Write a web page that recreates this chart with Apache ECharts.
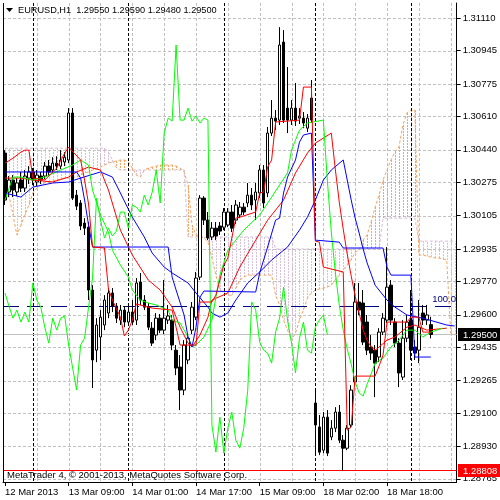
<!DOCTYPE html>
<html>
<head>
<meta charset="utf-8">
<script src="https://cdn.jsdelivr.net/npm/echarts@6/dist/echarts.min.js"></script>
<style>
  html, body { margin: 0; padding: 0; background: #fff; }
  #chart { width: 500px; height: 500px; }
</style>
</head>
<body>
<div id="chart"></div>
<script>
// EURUSD H1 bars, oldest first (bar 0 = 12 Mar 2013 17:00)
var opens = [
  1.30423, 1.30225, 1.30286, 1.30225, 1.30286, 1.30245, 1.30296, 1.30327, 1.30276, 1.30306,
  1.30306, 1.30357, 1.30337, 1.30372, 1.30357, 1.30378, 1.30388, 1.30627, 1.30209, 1.30169,
  1.30067, 1.30046, 1.29726, 1.29420, 1.29487, 1.29548, 1.29609, 1.29711, 1.29644, 1.29573,
  1.29624, 1.29563, 1.29614, 1.29573, 1.29767, 1.29675, 1.29639, 1.29532, 1.29497, 1.29583,
  1.29522, 1.29573, 1.29573, 1.29420, 1.29334, 1.29217, 1.29370, 1.29522, 1.29588, 1.29792,
  1.30194, 1.30082, 1.29996, 1.30041, 1.30052, 1.30046, 1.30057, 1.30123, 1.30082, 1.30108,
  1.30148, 1.30169, 1.30209, 1.30184, 1.30220, 1.30337, 1.30220, 1.30525, 1.30601, 1.30591,
  1.30988, 1.30652, 1.30591, 1.30652, 1.30601, 1.30601, 1.30550, 1.30703, 1.29151, 1.29029,
  1.28911, 1.29079, 1.28978, 1.29023, 1.29105, 1.28962, 1.28921, 1.29039, 1.29258, 1.29665,
  1.29660, 1.29563, 1.29436, 1.29420, 1.29385, 1.29512, 1.29573, 1.29751, 1.29563, 1.29456,
  1.29283, 1.29481, 1.29573, 1.29436, 1.29420, 1.29609, 1.29573, 1.29550
];
var closes = [
  1.30184, 1.30286, 1.30235, 1.30271, 1.30245, 1.30306, 1.30327, 1.30286, 1.30311, 1.30286,
  1.30357, 1.30327, 1.30372, 1.30357, 1.30388, 1.30402, 1.30627, 1.30194, 1.30153, 1.30052,
  1.30041, 1.29726, 1.29370, 1.29548, 1.29588, 1.29675, 1.29711, 1.29644, 1.29583, 1.29624,
  1.29563, 1.29614, 1.29563, 1.29762, 1.29675, 1.29639, 1.29537, 1.29456, 1.29583, 1.29522,
  1.29583, 1.29594, 1.29446, 1.29329, 1.29217, 1.29446, 1.29481, 1.29639, 1.29787, 1.30194,
  1.30082, 1.29991, 1.30041, 1.30001, 1.30026, 1.30123, 1.30123, 1.30041, 1.30159, 1.30148,
  1.30123, 1.30209, 1.30159, 1.30225, 1.30337, 1.30169, 1.30525, 1.30601, 1.30586, 1.30973,
  1.30591, 1.30591, 1.30652, 1.30586, 1.30612, 1.30576, 1.30601, 1.30591, 1.29039, 1.28901,
  1.29079, 1.28896, 1.29023, 1.29105, 1.28962, 1.28921, 1.29023, 1.29217, 1.29665, 1.29624,
  1.29461, 1.29420, 1.29405, 1.29354, 1.29512, 1.29583, 1.29741, 1.29573, 1.29456, 1.29304,
  1.29481, 1.29563, 1.29420, 1.29405, 1.29537, 1.29573, 1.29599, 1.29500
];
var lows = [
  1.30159, 1.30199, 1.30199, 1.30204, 1.30225, 1.30225, 1.30266, 1.30260, 1.30255, 1.30266,
  1.30291, 1.30306, 1.30322, 1.30337, 1.30342, 1.30357, 1.30372, 1.30184, 1.30133, 1.30031,
  1.30006, 1.29675, 1.29227, 1.29359, 1.29370, 1.29522, 1.29583, 1.29614, 1.29558, 1.29548,
  1.29537, 1.29543, 1.29548, 1.29548, 1.29650, 1.29624, 1.29522, 1.29441, 1.29471, 1.29507,
  1.29502, 1.29553, 1.29420, 1.29293, 1.29115, 1.29191, 1.29349, 1.29502, 1.29573, 1.29777,
  1.30057, 1.29980, 1.29980, 1.29980, 1.30006, 1.30031, 1.30046, 1.30021, 1.30062, 1.30092,
  1.30108, 1.30148, 1.30133, 1.30082, 1.30194, 1.30143, 1.30199, 1.30510, 1.30540, 1.30566,
  1.30576, 1.30525, 1.30566, 1.30561, 1.30571, 1.30550, 1.30530, 1.30576, 1.28896, 1.28886,
  1.28896, 1.28881, 1.28962, 1.29003, 1.28947, 1.28808, 1.28911, 1.29023, 1.29242, 1.29599,
  1.29446, 1.29395, 1.29370, 1.29181, 1.29359, 1.29497, 1.29558, 1.29548, 1.29436, 1.29232,
  1.29268, 1.29461, 1.29370, 1.29370, 1.29354, 1.29548, 1.29548, 1.29480
];
var highs = [
  1.30438, 1.30306, 1.30311, 1.30296, 1.30327, 1.30337, 1.30357, 1.30347, 1.30337, 1.30327,
  1.30378, 1.30388, 1.30402, 1.30407, 1.30438, 1.30428, 1.30652, 1.30652, 1.30235, 1.30184,
  1.30092, 1.30072, 1.29751, 1.29583, 1.29624, 1.29700, 1.29736, 1.29736, 1.29660, 1.29650,
  1.29644, 1.29644, 1.29675, 1.29787, 1.29813, 1.29700, 1.29660, 1.29563, 1.29609, 1.29604,
  1.29777, 1.29650, 1.29599, 1.29446, 1.29395, 1.29471, 1.29502, 1.29665, 1.29818, 1.30209,
  1.30204, 1.30123, 1.30072, 1.30072, 1.30072, 1.30143, 1.30143, 1.30159, 1.30184, 1.30174,
  1.30169, 1.30271, 1.30245, 1.30271, 1.30362, 1.30362, 1.30556, 1.30693, 1.30642, 1.31064,
  1.31049, 1.30861, 1.30693, 1.30780, 1.30652, 1.30632, 1.30622, 1.30795, 1.29217, 1.29090,
  1.29105, 1.29115, 1.29064, 1.29130, 1.29141, 1.28988, 1.29039, 1.29242, 1.29762, 1.29762,
  1.29726, 1.29599, 1.29497, 1.29446, 1.29532, 1.29609, 1.29945, 1.29777, 1.29583, 1.29481,
  1.29573, 1.29599, 1.29726, 1.29471, 1.29675, 1.29650, 1.29650, 1.29590
];

// Ichimoku: tenkan / kijun vertices [bar, price]
var tenkan = [
  [0,1.30372],[2,1.30397],[4,1.30428],[5,1.30438],[6,1.30438],[7,1.30296],[10,1.30286],[13,1.30347],
  [15,1.30423],[16,1.30453],[19,1.30388],[20,1.30286],[21,1.30164],[22,1.29945],[25,1.29940],[26,1.29731],
  [27,1.29675],[29,1.29588],[30,1.29492],[31,1.29522],[32,1.29573],[33,1.29655],[37,1.29634],[42,1.29624],
  [43,1.29537],[44,1.29446],[48,1.29446],[49,1.29665],[52,1.29665],[53,1.29700],[54,1.29777],[55,1.29853],
  [56,1.29889],[57,1.29991],[58,1.30092],[59,1.30097],[63,1.30123],[64,1.30220],[65,1.30225],[66,1.30352],
  [67,1.30388],[68,1.30581],[74,1.30591],[75,1.30759],[77,1.30759],[78,1.29975],[79,1.29970],[80,1.29843],
  [85,1.29818],[86,1.29013],[87,1.29029],[88,1.29288],[93,1.29288],[94,1.29339],[95,1.29395],[96,1.29563],
  [101,1.29563],[102,1.29588],[104,1.29588],[105,1.29512],[107,1.29512]
];
var kijun = [
  [0,1.30327],[18,1.30327],[19,1.30296],[20,1.30184],[21,1.30057],[22,1.29945],[41,1.29945],[42,1.29792],
  [43,1.29726],[45,1.29599],[46,1.29487],[47,1.29436],[48,1.29537],[49,1.29690],[50,1.29721],[63,1.29716],
  [64,1.29813],[65,1.29879],[66,1.29945],[68,1.30082],[69,1.30092],[70,1.30220],[71,1.30301],[73,1.30388],
  [74,1.30479],[75,1.30515],[77,1.30525],[78,1.29980],[84,1.29970],[85,1.29940],[95,1.29940],[96,1.29843],
  [97,1.29802],[102,1.29802],[103,1.29385],[107,1.29385]
];
// senkou spans, one value per bar slot (cloud runs 26 bars ahead)
var spanA = [
  1.30286, 1.30209, 1.30108, 1.30006, 1.30057, 1.30108, 1.30159, 1.30220, 1.30245, 1.30260,
  1.30271, 1.30276, 1.30281, 1.30286, 1.30291, 1.30296, 1.30296, 1.30301, 1.30301, 1.30311,
  1.30322, 1.30327, 1.30337, 1.30342, 1.30352, 1.30362, 1.30372, 1.30378, 1.30383, 1.30388,
  1.30388, 1.30378, 1.30347, 1.30311, 1.30301, 1.30337, 1.30347, 1.30352, 1.30357, 1.30362,
  1.30362, 1.30362, 1.30362, 1.30357, 1.30347, 1.30327, 1.30260, 1.30057, 1.30006, 1.29996,
  1.29991, 1.29970, 1.29889, 1.29802, 1.29726, 1.29711, 1.29700, 1.29700, 1.29736, 1.29777,
  1.29792, 1.29802, 1.29802, 1.29802, 1.29802, 1.29802, 1.29802, 1.29802, 1.29700, 1.29650,
  1.29573, 1.29522, 1.29471, 1.29507, 1.29573, 1.29624, 1.29685, 1.29711, 1.29726, 1.29731,
  1.29736, 1.29741, 1.29751, 1.29777, 1.29802, 1.29828, 1.29853, 1.29879, 1.29919, 1.29929,
  1.29980, 1.30006, 1.30072, 1.30148, 1.30209, 1.30286, 1.30337, 1.30388, 1.30428, 1.30454,
  1.30566, 1.30627, 1.30642, 1.30642, 1.29904, 1.29904, 1.29899, 1.29894, 1.29889, 1.29889,
  1.29884, 1.29879, 1.29507, 1.29497
];
var spanB = [
  1.30448, 1.30448, 1.30448, 1.30448, 1.30448, 1.30448, 1.30448, 1.30448, 1.30448, 1.30448,
  1.30448, 1.30448, 1.30448, 1.30448, 1.30448, 1.30448, 1.30448, 1.30448, 1.30448, 1.30448,
  1.30448, 1.30448, 1.30448, 1.30448, 1.30448, 1.30448, 1.30428, 1.30388, 1.30347, 1.30337,
  1.30337, 1.30337, 1.30337, 1.30337, 1.30337, 1.30337, 1.30337, 1.30337, 1.30337, 1.30337,
  1.30337, 1.30337, 1.30337, 1.30337, 1.30337, 1.30337, 1.29996, 1.29996, 1.29996, 1.29996,
  1.29996, 1.29996, 1.29996, 1.29996, 1.29996, 1.29996, 1.29996, 1.29996, 1.29996, 1.29996,
  1.29996, 1.29996, 1.29996, 1.29996, 1.29996, 1.29996, 1.29996, 1.29996, 1.29935, 1.29935,
  1.29935, 1.29935, 1.29935, 1.29935, 1.29935, 1.29935, 1.29935, 1.29935, 1.29935, 1.29935,
  1.29935, 1.29935, 1.29935, 1.29935, 1.29935, 1.29935, 1.29935, 1.29935, 1.29935, 1.29935,
  1.29935, 1.29935, 1.29935, 1.29935, 1.29935, 1.30092, 1.30092, 1.30092, 1.30092, 1.30092,
  1.30092, 1.30092, 1.30092, 1.30092, 1.29975, 1.29975, 1.29975, 1.29975, 1.29975, 1.29975,
  1.29975, 1.29975, 1.29975, 1.29975
];

// Alligator lines (jaw blue, teeth red, lips green), vertices [bar, price]
var jaw = [
  [0,1.30220],[4,1.30199],[7,1.30250],[12,1.30271],[16,1.30276],[19,1.30296],[24,1.30327],[27,1.30301],
  [29,1.30220],[32,1.30097],[35,1.29996],[37,1.29914],[40,1.29843],[42,1.29813],[46,1.29762],[48,1.29711],
  [51,1.29639],[52,1.29609],[54,1.29588],[56,1.29609],[58,1.29675],[61,1.29762],[64,1.29818],[67,1.29879],
  [71,1.29945],[74,1.30031],[76,1.30097],[78,1.30184],[80,1.30286],[82,1.30337],[85,1.30388],[86,1.30286],
  [87,1.30184],[88,1.30092],[89,1.30016],[90,1.29935],[91,1.29864],[92,1.29808],[93,1.29751],[96,1.29675],
  [98,1.29639],[101,1.29599],[105,1.29583],[111,1.29548],[113,1.29543]
];
var teeth = [
  [0,1.30296],[4,1.30296],[7,1.30286],[12,1.30276],[16,1.30301],[18,1.30327],[21,1.30352],[24,1.30337],
  [26,1.30235],[29,1.30031],[32,1.29904],[36,1.29777],[39,1.29726],[42,1.29639],[44,1.29537],[46,1.29456],
  [47,1.29436],[49,1.29497],[51,1.29588],[52,1.29675],[56,1.29711],[59,1.29843],[63,1.29980],[66,1.30082],
  [70,1.30184],[73,1.30322],[76,1.30423],[78,1.30474],[82,1.30525],[83,1.30342],[84,1.30174],[85,1.30036],
  [86,1.29909],[87,1.29797],[88,1.29695],[89,1.29609],[90,1.29522],[91,1.29471],[92,1.29436],[93,1.29420],
  [94,1.29436],[96,1.29471],[98,1.29487],[101,1.29537],[103,1.29548],[106,1.29522],[111,1.29532]
];
var lips = [
  [0,1.30184],[2,1.30301],[4,1.30301],[7,1.30286],[10,1.30301],[14,1.30337],[17,1.30362],[19,1.30388],
  [21,1.30362],[22,1.30235],[24,1.30108],[26,1.30021],[27,1.29929],[29,1.29853],[31,1.29792],[32,1.29726],
  [34,1.29675],[36,1.29660],[38,1.29650],[41,1.29624],[42,1.29573],[44,1.29558],[46,1.29487],[47,1.29436],
  [48,1.29446],[50,1.29487],[52,1.29573],[53,1.29690],[54,1.29802],[56,1.29929],[60,1.30031],[64,1.30108],
  [67,1.30199],[71,1.30322],[72,1.30438],[73,1.30489],[74,1.30540],[76,1.30576],[80,1.30591],[81,1.30286],
  [82,1.30021],[83,1.29818],[84,1.29650],[85,1.29522],[86,1.29425],[87,1.29349],[88,1.29258],[89,1.29202],
  [90,1.29186],[91,1.29247],[92,1.29298],[93,1.29354],[95,1.29380],[97,1.29436],[99,1.29471],[101,1.29522],
  [103,1.29522],[105,1.29487],[107,1.29512],[110,1.29532]
];

var tickIdx = [0, 16, 32, 48, 64, 80, 96];
var tickText = ['12 Mar 2013', '13 Mar 09:00', '14 Mar 01:00', '14 Mar 17:00', '15 Mar 09:00', '18 Mar 02:00', '18 Mar 18:00'];
var priceTicks = [1.31110, 1.30945, 1.30775, 1.30610, 1.30440, 1.30275, 1.30105, 1.29935,
                  1.29770, 1.29600, 1.29435, 1.29265, 1.29100, 1.28930, 1.28765];
var dayStarts = [7, 31, 55, 78, 102];
var gridCols = [8, 16, 24, 32, 40, 48, 56, 64, 72, 80, 88, 96, 104, 112];
var bidPrice = 1.29500;
var lowLevel = 1.28808;
var fiboLevel = 1.29644;
var SLOTS = 114;

var FONT = '"Liberation Sans", Arial, sans-serif';
var SILVER = '#c0c0c0';
var cats = [];
for (var i = 0; i < SLOTS; i++) cats.push(String(i));

var candles = opens.map(function (o, i) { return [o, closes[i], lows[i], highs[i]]; });
// chikou span = close plotted 26 bars back
var chikou = closes.slice(26).map(function (c, i) { return [i, c]; });
var cloud = spanA.map(function (a, i) { return [i, a, spanB[i]]; });
var spanALine = spanA.map(function (a, i) { return [i, a]; });
var spanBLine = spanB.map(function (b, i) { return [i, b]; });

function crisp(v) { return Math.round(v) + 0.5; }

// dashed grid (pixel aligned), under everything else
function renderGrid(params, api) {
  var cs = params.coordSys;
  var x0 = cs.x, x1 = cs.x + cs.width, y0 = cs.y, y1 = cs.y + cs.height;
  var kids = [];
  priceTicks.forEach(function (v) {
    var y = crisp(api.coord([0, v])[1]);
    kids.push({type: 'line', shape: {x1: x0, y1: y, x2: x1, y2: y},
      style: {stroke: SILVER, lineWidth: 1, lineDash: [3, 2]}});
  });
  gridCols.forEach(function (c) {
    var x = crisp(api.coord([c, priceTicks[0]])[0]);
    kids.push({type: 'line', shape: {x1: x, y1: y0, x2: x, y2: y1},
      style: {stroke: SILVER, lineWidth: 1, lineDash: [3, 2]}});
  });
  return {type: 'group', children: kids};
}

// day separators and price levels
function renderFront(params, api) {
  var cs = params.coordSys;
  var x0 = cs.x, x1 = cs.x + cs.width, y0 = cs.y, y1 = cs.y + cs.height;
  var kids = [];
  dayStarts.forEach(function (c) {
    var x = crisp(api.coord([c, priceTicks[0]])[0]);
    kids.push({type: 'line', shape: {x1: x, y1: y0, x2: x, y2: y1},
      style: {stroke: '#000', lineWidth: 1, lineDash: [3, 2]}});
  });
  var yb = crisp(api.coord([0, bidPrice])[1]);
  kids.push({type: 'line', shape: {x1: x0, y1: yb, x2: x1, y2: yb}, style: {stroke: SILVER, lineWidth: 1}});
  var yf = crisp(api.coord([0, fiboLevel])[1]);
  kids.push({type: 'line', shape: {x1: x0, y1: yf, x2: x1 - 2, y2: yf},
    style: {stroke: '#000080', lineWidth: 1, lineDash: [16, 8]}});
  var yl = crisp(api.coord([0, lowLevel])[1]);
  kids.push({type: 'line', shape: {x1: x0, y1: yl, x2: x1, y2: yl}, style: {stroke: '#ff0000', lineWidth: 1}});
  kids.push({type: 'line', shape: {x1: crisp(x0), y1: y0, x2: crisp(x0), y2: y1}, style: {stroke: '#000', lineWidth: 1}});
  return {type: 'group', children: kids};
}

function renderCloud(params, api) {
  var i = api.value(0), a = api.value(1), b = api.value(2);
  var pa = api.coord([i, a]), pb = api.coord([i, b]);
  var x = crisp(pa[0]);
  return {type: 'line', shape: {x1: x, y1: pa[1], x2: x, y2: pb[1]},
    style: {stroke: a >= b ? '#F4A460' : '#D8BFD8', lineWidth: 1, lineDash: [2, 1]}};
}

function lineSeries(name, data, color, z, dash) {
  return {
    name: name, type: 'line', data: data, showSymbol: false, symbol: 'none',
    lineStyle: {color: color, width: 1, type: dash || 'solid'}, z: z, silent: true
  };
}

var chart = echarts.init(document.getElementById('chart'));
var option = {
  animation: false,
  backgroundColor: '#fff',
  grid: {left: 3, right: 43, top: 3, bottom: 18},
  xAxis: {
    type: 'category',
    data: cats,
    boundaryGap: true,
    axisLine: {show: true, lineStyle: {color: '#000', width: 1}},
    axisTick: {
      show: true, alignWithLabel: true, length: 4, lineStyle: {color: '#000'},
      interval: function (idx) { return tickIdx.indexOf(idx) >= 0; }
    },
    axisLabel: {
      interval: function (idx) { return tickIdx.indexOf(idx) >= 0; },
      formatter: function (v, idx) { return tickText[tickIdx.indexOf(Number(v))] || ''; },
      align: 'left', color: '#000', fontSize: 9.5, fontFamily: FONT, margin: 5
    },
    splitLine: {show: false}
  },
  yAxis: {
    type: 'value',
    position: 'right',
    min: 1.28749,
    max: 1.31187,
    scale: true,
    axisLine: {show: true, lineStyle: {color: '#000', width: 1}},
    axisTick: {show: true, length: 4, lineStyle: {color: '#000'}, customValues: priceTicks},
    axisLabel: {
      customValues: priceTicks,
      formatter: function (v) { return v.toFixed(5); },
      color: '#000', fontSize: 9.5, fontFamily: FONT, margin: 6
    },
    splitLine: {show: false}
  },
  series: [
    {name: 'gridlines', type: 'custom', renderItem: renderGrid, data: [[0, priceTicks[2]]], z: 2, silent: true, clip: false},
    {name: 'cloud', type: 'custom', renderItem: renderCloud, data: cloud, encode: {x: 0, y: [1, 2]}, z: 2, silent: true},
    lineSeries('Senkou A', spanALine, '#F4A460', 2, [3, 2]),
    lineSeries('Senkou B', spanBLine, '#D8BFD8', 2, [3, 2]),
    {name: 'levels', type: 'custom', renderItem: renderFront, data: [[0, priceTicks[0]]], z: 3, silent: true, clip: false},
    {
      type: 'candlestick', data: candles, barWidth: 3, z: 4, silent: true,
      itemStyle: {color: '#ffffff', color0: '#000000', borderColor: '#000000', borderColor0: '#000000', borderWidth: 1}
    },
    lineSeries('Jaw', jaw, '#0000ff', 5),
    lineSeries('Teeth', teeth, '#ff0000', 5),
    lineSeries('Lips', lips, '#00ff00', 5),
    lineSeries('Chikou', chikou, '#00ff00', 6),
    lineSeries('Kijun', kijun, '#0000ff', 6),
    lineSeries('Tenkan', tenkan, '#ff0000', 6)
  ]
};
chart.setOption(option);

// price tags and captions placed with the chart's own scale
var yBid = chart.convertToPixel({yAxisIndex: 0}, bidPrice);
var yLow = chart.convertToPixel({yAxisIndex: 0}, lowLevel);
var yFib = chart.convertToPixel({yAxisIndex: 0}, fiboLevel);
chart.setOption({
  graphic: [
    {type: 'polygon', shape: {points: [[6, 8], [13, 8], [9.5, 12]]}, style: {fill: '#000'}, z: 20},
    {type: 'text', x: 18, y: 10.5, z: 20, style: {text: 'EURUSD,H1  1.29550 1.29590 1.29480 1.29500',
      fill: '#000', fontSize: 9.2, fontFamily: FONT, verticalAlign: 'middle'}},
    {type: 'text', x: 7, y: 475, z: 20, style: {text: 'MetaTrader 4, \u00a9 2001-2013, MetaQuotes Software Corp.',
      fill: '#000', fontSize: 9.5, fontFamily: FONT, verticalAlign: 'middle'}},
    {type: 'text', x: 456, y: yFib - 7, z: 20, style: {text: '100.0',
      fill: '#000080', fontSize: 9.5, fontFamily: FONT, align: 'right', verticalAlign: 'middle'}},
    {type: 'rect', shape: {x: 458, y: Math.round(yBid) - 6, width: 42, height: 13}, style: {fill: '#000'}, z: 20},
    {type: 'text', x: 463, y: yBid + 0.5, z: 21, style: {text: bidPrice.toFixed(5),
      fill: '#fff', fontSize: 9.5, fontFamily: FONT, verticalAlign: 'middle'}},
    {type: 'rect', shape: {x: 458, y: Math.round(yLow) - 6, width: 42, height: 13}, style: {fill: '#ff0000'}, z: 20},
    {type: 'text', x: 463, y: yLow + 0.5, z: 21, style: {text: lowLevel.toFixed(5),
      fill: '#fff', fontSize: 9.5, fontFamily: FONT, verticalAlign: 'middle'}}
  ]
});
</script>
</body>
</html>
